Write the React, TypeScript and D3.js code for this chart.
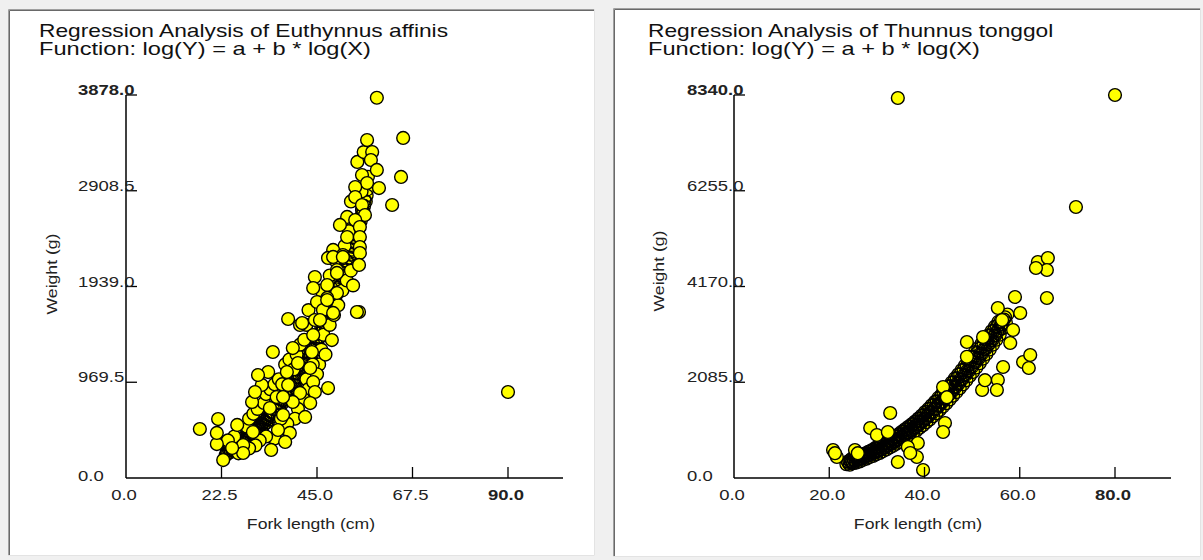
import * as d3 from "d3";

const FONT = "'Liberation Sans', Arial, sans-serif";

type Pt = [number, number];

// tick values
const leftXTicks = [0, 22.5, 45, 67.5, 90];
const leftYTicks = [0, 969.5, 1939, 2908.5, 3878];
const rightXTicks = [0, 20, 40, 60, 80];
const rightYTicks = [0, 2085, 4170, 6255, 8340];

// Euthynnus affinis: dense core of the cloud (fork length cm, weight g)
const leftBand: Pt[] = [
  [23.5, 230], [23.8, 270], [24.1, 250], [24.4, 300], [24.7, 265], [25.0, 320], [25.3, 280], [25.6, 340],
  [25.9, 300], [26.2, 360], [26.5, 320], [26.8, 380], [27.1, 340], [27.4, 400], [27.7, 360], [28.0, 420],
  [28.3, 380], [28.6, 440], [28.9, 400], [29.2, 460], [29.5, 420], [29.8, 490], [30.1, 440], [30.4, 510],
  [30.7, 460], [31.0, 540], [31.3, 490], [31.6, 560], [31.9, 510], [32.2, 590], [32.5, 540], [32.8, 610],
  [33.1, 560], [33.4, 640], [33.7, 590], [34.0, 670], [34.3, 620], [34.6, 700], [34.9, 650], [35.2, 730],
  [35.5, 680], [35.8, 760], [36.1, 720], [36.4, 800], [36.7, 750], [37.0, 830], [37.3, 790], [37.6, 870],
  [37.9, 820], [38.2, 900], [38.5, 860], [38.8, 940], [39.1, 900], [39.4, 980], [39.7, 940], [40.0, 1020],
  [40.3, 980], [40.6, 1060], [40.9, 1020], [41.2, 1110], [41.5, 1070], [41.8, 1150], [42.1, 1110], [42.4, 1200],
  [42.7, 1160], [43.0, 1250], [43.3, 1210], [43.6, 1300], [43.9, 1260], [44.2, 1350], [44.5, 1310], [44.8, 1410],
  [45.1, 1370], [45.4, 1460], [45.7, 1430], [46.0, 1520], [46.3, 1490], [46.6, 1580], [46.9, 1550], [47.2, 1640],
  [47.5, 1610], [47.8, 1700], [48.1, 1680], [48.4, 1770], [48.7, 1740], [49.0, 1840], [49.3, 1810], [49.6, 1910],
  [49.9, 1880], [50.2, 1980], [50.5, 1950], [50.8, 2050], [51.1, 2030], [51.4, 2120], [51.7, 2100], [52.0, 2200],
  [52.3, 2180], [52.6, 2280], [52.9, 2260], [53.2, 2360], [53.5, 2340], [53.8, 2440], [54.1, 2420], [54.4, 2530],
  [54.7, 2510], [55.0, 2620], [55.3, 2600], [55.6, 2710], [55.9, 2700], [56.2, 2810], [56.5, 2800], [56.8, 2920],
  [23.7, 250], [24.3, 285], [24.9, 295], [25.5, 320], [26.1, 335], [26.7, 355], [27.3, 370], [27.9, 390],
  [28.5, 410], [29.1, 430], [29.7, 455], [30.3, 475], [30.9, 500], [31.5, 525], [32.1, 550], [32.7, 575],
  [33.3, 600], [33.9, 630], [34.5, 660], [35.1, 690], [35.7, 720], [36.3, 760], [36.9, 790], [37.5, 830],
  [38.1, 860], [38.7, 900], [39.3, 940], [39.9, 980], [40.5, 1020], [41.1, 1065], [41.7, 1110], [42.3, 1155],
  [42.9, 1205], [43.5, 1255], [44.1, 1305], [44.7, 1360], [45.3, 1415], [45.9, 1475], [46.5, 1535], [47.1, 1595],
  [47.7, 1655], [48.3, 1725], [48.9, 1790], [49.5, 1860], [50.1, 1930], [50.7, 2000], [51.3, 2075], [51.9, 2150],
  [52.5, 2230], [53.1, 2310], [53.7, 2390], [54.3, 2475], [54.9, 2565], [55.5, 2655], [56.1, 2755], [56.7, 2860],
];

// Euthynnus affinis: scattered points
const leftScatter: Pt[] = [
  [28.5, 520], [29.0, 600], [30.0, 650], [31.0, 700], [32.5, 760], [33.0, 850], [34.0, 900], [35.0, 950],
  [35.5, 820], [36.0, 1000], [36.8, 950], [37.5, 1150], [38.5, 1200], [39.5, 1100], [40.2, 1250], [41.0, 1350],
  [42.0, 1400], [42.5, 1000], [43.0, 900], [41.8, 800], [40.5, 700], [39.8, 600], [38.0, 550], [36.5, 600],
  [35.0, 400], [33.0, 420], [31.5, 380], [30.5, 330], [29.0, 300], [26.5, 250], [25.5, 420], [24.0, 380],
  [45.5, 1150], [46.0, 1300], [46.5, 1450], [47.0, 1250], [48.0, 1550], [49.0, 1650], [50.0, 1750], [51.0, 1900],
  [52.0, 2000], [53.0, 2100], [53.5, 2550], [52.5, 2500], [51.5, 2350], [50.5, 2250], [53.0, 2800], [54.5, 3200],
  [55.5, 2900], [56.0, 3300], [57.0, 3050], [53.5, 1950], [46.0, 1900], [48.0, 2050], [43.0, 1700], [42.5, 1550],
  [44.0, 1150], [45.0, 1050],
  [59.1, 3850], [65.3, 3443], [56.8, 3422], [58.0, 3301], [57.7, 3220], [59.1, 3119], [55.6, 3068], [64.8, 3048],
  [56.8, 2987], [59.6, 2936], [54.0, 2946], [54.0, 2845], [55.6, 2764], [62.7, 2764], [56.3, 2663], [52.1, 2643],
  [54.0, 2612], [50.4, 2562], [55.1, 2541], [52.1, 2440], [55.1, 2440], [55.1, 2339], [48.8, 2309], [51.1, 2258],
  [55.1, 2278], [49.2, 2207], [54.9, 2157], [47.6, 2228], [49.7, 2106], [44.5, 2035], [47.4, 1954], [44.1, 1924],
  [49.7, 1873], [47.4, 1823], [45.0, 1782], [46.4, 1701], [54.9, 1681], [48.8, 1671], [38.2, 1610], [41.0, 1549],
  [44.5, 1600], [45.7, 1600], [48.5, 1397], [41.5, 1569], [44.1, 1448], [43.4, 1114], [43.8, 1276], [44.1, 972],
  [47.6, 911], [44.5, 871], [43.4, 759], [42.2, 618], [41.0, 861], [39.3, 770], [38.6, 456], [37.5, 365],
  [37.0, 820], [38.2, 942], [40.5, 1164], [39.3, 1316], [37.9, 1073], [37.0, 638], [34.2, 284], [35.8, 486],
  [33.9, 709], [34.6, 1276], [33.5, 1073], [32.0, 942], [31.1, 1043], [29.7, 770], [30.4, 871], [29.9, 466],
  [27.6, 334], [27.6, 253], [26.2, 537], [25.0, 304], [22.9, 182], [21.4, 344], [21.4, 456], [21.7, 597],
  [17.4, 496], [90.0, 871], [48.8, 2238], [51.1, 2238], [49.7, 2076], [54.4, 1681], [47.4, 1802],
];

// Thunnus tonggol: dense core of the cloud
const rightBand: Pt[] = [
  [23.6, 300], [23.9, 360], [24.3, 290], [24.5, 345], [24.6, 410], [25.0, 320], [25.2, 385], [25.4, 440],
  [25.7, 335], [25.9, 400], [26.1, 470], [26.4, 360], [26.6, 430], [26.8, 500], [27.1, 395], [27.3, 455],
  [27.5, 535], [27.8, 420], [28.0, 495], [28.2, 570], [28.5, 455], [28.7, 530], [28.9, 605], [29.2, 480],
  [29.4, 565], [29.6, 650], [29.9, 515], [30.1, 600], [30.3, 690], [30.6, 545], [30.8, 630], [31.0, 720],
  [31.3, 585], [31.5, 675], [31.7, 765], [32.0, 620], [32.2, 710], [32.4, 810], [32.7, 665], [32.9, 755],
  [33.1, 850], [33.4, 700], [33.6, 800], [33.8, 905], [34.1, 745], [34.3, 845], [34.5, 950], [34.8, 785],
  [35.0, 890], [35.2, 1005], [35.5, 835], [35.7, 945], [35.9, 1060], [36.2, 880], [36.4, 995], [36.6, 1115],
  [36.9, 935], [37.1, 1045], [37.3, 1170], [37.6, 985], [37.8, 1105], [38.0, 1230], [38.3, 1035], [38.5, 1165],
  [38.7, 1295], [39.0, 1095], [39.2, 1230], [39.4, 1360], [39.7, 1150], [39.9, 1290], [40.1, 1435], [40.4, 1215],
  [40.6, 1360], [40.8, 1505], [41.1, 1275], [41.3, 1430], [41.5, 1585], [41.8, 1345], [42.0, 1500], [42.2, 1660],
  [42.5, 1410], [42.7, 1580], [42.9, 1745], [43.2, 1480], [43.4, 1650], [43.6, 1820], [43.9, 1555], [44.1, 1730],
  [44.3, 1905], [44.6, 1630], [44.8, 1810], [45.0, 1990], [45.3, 1710], [45.5, 1895], [45.7, 2080], [46.0, 1790],
  [46.2, 1980], [46.4, 2170], [46.7, 1870], [46.9, 2065], [47.1, 2260], [47.4, 1955], [47.6, 2150], [47.8, 2350],
  [48.1, 2040], [48.3, 2240], [48.5, 2450], [48.8, 2130], [49.0, 2335], [49.2, 2545], [49.5, 2220], [49.7, 2425],
  [49.9, 2640], [50.2, 2310], [50.4, 2520], [50.6, 2740], [50.9, 2405], [51.1, 2615], [51.3, 2830], [51.6, 2500],
  [51.8, 2710], [52.0, 2930], [52.3, 2600], [52.5, 2805], [52.7, 3020], [53.0, 2700], [53.2, 2900], [53.4, 3110],
  [53.7, 2800], [53.9, 3000], [54.1, 3200], [54.4, 2905], [54.6, 3100], [54.8, 3300], [55.1, 3010], [55.3, 3200],
  [55.5, 3400], [55.8, 3120], [56.0, 3310], [56.4, 3260], [56.7, 3450], [57.1, 3380], [57.4, 3560],
  [24.0, 330], [24.4, 380], [24.8, 350], [25.1, 415], [25.5, 370], [25.8, 450], [26.2, 395], [26.5, 465],
  [26.9, 425], [27.2, 500], [27.6, 460], [27.9, 540], [28.3, 495], [28.6, 580], [29.0, 525], [29.3, 615],
  [29.7, 560], [30.0, 650], [30.4, 595], [30.7, 690], [31.1, 630], [31.4, 725], [31.8, 670], [32.1, 765],
  [32.5, 715], [32.8, 810], [33.2, 755], [33.5, 860], [33.9, 800], [34.2, 905], [34.6, 845], [34.9, 955],
  [35.3, 890], [35.6, 1010], [36.0, 940], [36.3, 1060], [36.7, 990], [37.0, 1115], [37.4, 1045], [37.7, 1175],
  [38.1, 1100], [38.4, 1235], [38.8, 1160], [39.1, 1300], [39.5, 1225], [39.8, 1370], [40.2, 1290], [40.5, 1440],
  [40.9, 1355], [41.2, 1515], [41.6, 1425], [41.9, 1590], [42.3, 1500], [42.6, 1670], [43.0, 1575], [43.3, 1750],
  [43.7, 1650], [44.0, 1830], [44.4, 1730], [44.7, 1915], [45.1, 1810], [45.4, 2000], [45.8, 1890], [46.1, 2085],
  [46.5, 1975], [46.8, 2170], [47.2, 2060], [47.5, 2260], [47.9, 2150], [48.2, 2350], [48.6, 2240], [48.9, 2440],
  [49.3, 2330], [49.6, 2540], [50.0, 2420], [50.3, 2630], [50.7, 2520], [51.0, 2720], [51.4, 2610], [51.7, 2820],
  [52.1, 2710], [52.4, 2910], [52.8, 2810], [53.1, 3010], [53.5, 2910], [53.8, 3100], [54.2, 3000], [54.5, 3200],
  [54.9, 3110], [55.2, 3300], [55.6, 3210], [55.9, 3400], [56.2, 3350], [56.9, 3500],
];

// Thunnus tonggol: scattered points
const rightScatter: Pt[] = [
  [34.4, 8275], [80.0, 8340], [71.8, 5901], [63.8, 4703], [65.9, 4790], [65.7, 4529], [63.4, 4573], [65.7, 3920],
  [59.0, 3941], [60.1, 3593], [55.4, 3702], [58.6, 3223], [56.3, 3440], [58.0, 2940], [52.3, 3070], [48.9, 2961],
  [56.5, 2417], [60.7, 2526], [61.9, 2395], [62.2, 2678], [55.4, 2134], [55.2, 1916], [52.1, 1916], [52.7, 2130],
  [48.9, 2640], [43.9, 1980], [44.7, 1760], [44.3, 1198], [43.9, 1002], [32.8, 1415], [28.6, 1089], [30.0, 936],
  [32.3, 1002], [20.8, 610], [21.6, 457], [21.2, 540], [25.4, 610], [26.0, 540], [38.6, 762], [36.5, 675],
  [38.4, 457], [34.4, 348], [39.7, 174], [37.0, 544],
];

interface TextProps {
  x: number;
  y: number;
  size?: number;
  sx?: number;
  anchor?: "start" | "middle" | "end";
  weight?: string;
  rotate?: number;
  fill?: string;
  children: string;
}

const Label = ({ x, y, size = 14, sx = 1.32, anchor = "start", weight = "normal", rotate = 0, fill = "#222", children }: TextProps) => (
  <text
    transform={`translate(${x},${y}) rotate(${rotate}) scale(${sx},1)`}
    textAnchor={anchor}
    fontSize={size}
    fontWeight={weight}
    fill={fill}
    fontFamily={FONT}
  >
    {children}
  </text>
);

interface PanelProps {
  box: [number, number, number, number];
  species: string;
  titleX: number;
  originX: number;
  lastTickX: number;
  axisEndX: number;
  xTicks: number[];
  yTicks: number[];
  yLabelX: number;
  xTitleX: number;
  yTitleX: number;
  yTitleY: number;
  band: Pt[];
  scatter: Pt[];
}

const R = 6.4;

const Panel = (p: PanelProps) => {
  const [x0, y0, x1, y1] = p.box;
  const xMax = p.xTicks[p.xTicks.length - 1];
  const yMax = p.yTicks[p.yTicks.length - 1];
  const x = d3.scaleLinear().domain([0, xMax]).range([p.originX, p.lastTickX]);
  const y = d3.scaleLinear().domain([0, yMax]).range([478, 95]);
  const fmt = d3.format(".1f");

  return (
    <g>
      <rect x={x0} y={y0} width={x1 - x0} height={y1 - y0} fill="#fff" />
      <path d={`M${x0 + 0.5},${y1} V${y0 + 0.5} H${x1}`} fill="none" stroke="#a0a0a0" />
      <path d={`M${x0 + 1.5},${y1 - 1} V${y0 + 1.5} H${x1 - 1}`} fill="none" stroke="#696969" />
      <path d={`M${x0},${y1 - 0.5} H${x1 - 0.5} V${y0}`} fill="none" stroke="#e3e3e3" />

      <Label x={p.titleX} y={37} size={17.5} sx={1.3} fill="#111">{`Regression Analysis of ${p.species}`}</Label>
      <Label x={p.titleX} y={55} size={17.5} sx={1.35} fill="#111">Function: log(Y) = a + b * log(X)</Label>

      {/* dense core: fills first, then every outline on top */}
      <g fill="#ffff00">
        {p.band.map((d, i) => (
          <circle key={i} cx={x(d[0])} cy={y(d[1])} r={R} />
        ))}
      </g>
      <g fill="none" stroke="#000" strokeWidth={1.3}>
        {p.band.map((d, i) => (
          <circle key={i} cx={x(d[0])} cy={y(d[1])} r={R} />
        ))}
      </g>
      {p.scatter.map((d, i) => (
        <circle key={i} cx={x(d[0])} cy={y(d[1])} r={R} fill="#ffff00" stroke="#000" strokeWidth={1.4} />
      ))}

      <line x1={p.originX} x2={p.originX} y1={95} y2={478} stroke="#000" strokeWidth={1.5} />
      <line x1={p.originX} x2={p.axisEndX} y1={478} y2={478} stroke="#000" strokeWidth={1.5} />

      {p.yTicks.map((v, i) => (
        <g key={"y" + i}>
          {i > 0 && <line x1={p.originX} x2={p.originX + 11} y1={y(v)} y2={y(v)} stroke="#000" strokeWidth={1.3} />}
          <Label x={p.yLabelX} y={y(v) + (i === 0 ? 3 : 0)} weight={i === p.yTicks.length - 1 ? "bold" : "normal"}>
            {fmt(v)}
          </Label>
        </g>
      ))}

      {p.xTicks.map((v, i) => (
        <g key={"x" + i}>
          {i > 0 && <line x1={x(v)} x2={x(v)} y1={467} y2={478} stroke="#000" strokeWidth={1.3} />}
          <Label x={x(v) - 2} y={500} anchor="middle" weight={i === p.xTicks.length - 1 ? "bold" : "normal"}>
            {fmt(v)}
          </Label>
        </g>
      ))}

      <Label x={p.xTitleX} y={529} anchor="middle" sx={1.26}>Fork length (cm)</Label>
      <Label x={p.yTitleX} y={p.yTitleY} anchor="middle" rotate={-90} sx={1.26}>Weight (g)</Label>
    </g>
  );
};

export default function App() {
  return (
    <svg
      width={1203}
      height={560}
      style={{ position: "absolute", left: 0, top: 0, display: "block" }}
    >
      <rect width={1203} height={560} fill="#f0f0f0" />
      <Panel
        box={[8, 9, 595, 556]}
        species="Euthynnus affinis"
        titleX={39}
        originX={126}
        lastTickX={508}
        axisEndX={563}
        xTicks={leftXTicks}
        yTicks={leftYTicks}
        yLabelX={78}
        xTitleX={311}
        yTitleX={57}
        yTitleY={274}
        band={leftBand}
        scatter={leftScatter}
      />
      <Panel
        box={[613, 8, 1201, 557]}
        species="Thunnus tonggol"
        titleX={648}
        originX={734}
        lastTickX={1115}
        axisEndX={1171}
        xTicks={rightXTicks}
        yTicks={rightYTicks}
        yLabelX={687}
        xTitleX={918}
        yTitleX={664}
        yTitleY={271}
        band={rightBand}
        scatter={rightScatter}
      />
    </svg>
  );
}
